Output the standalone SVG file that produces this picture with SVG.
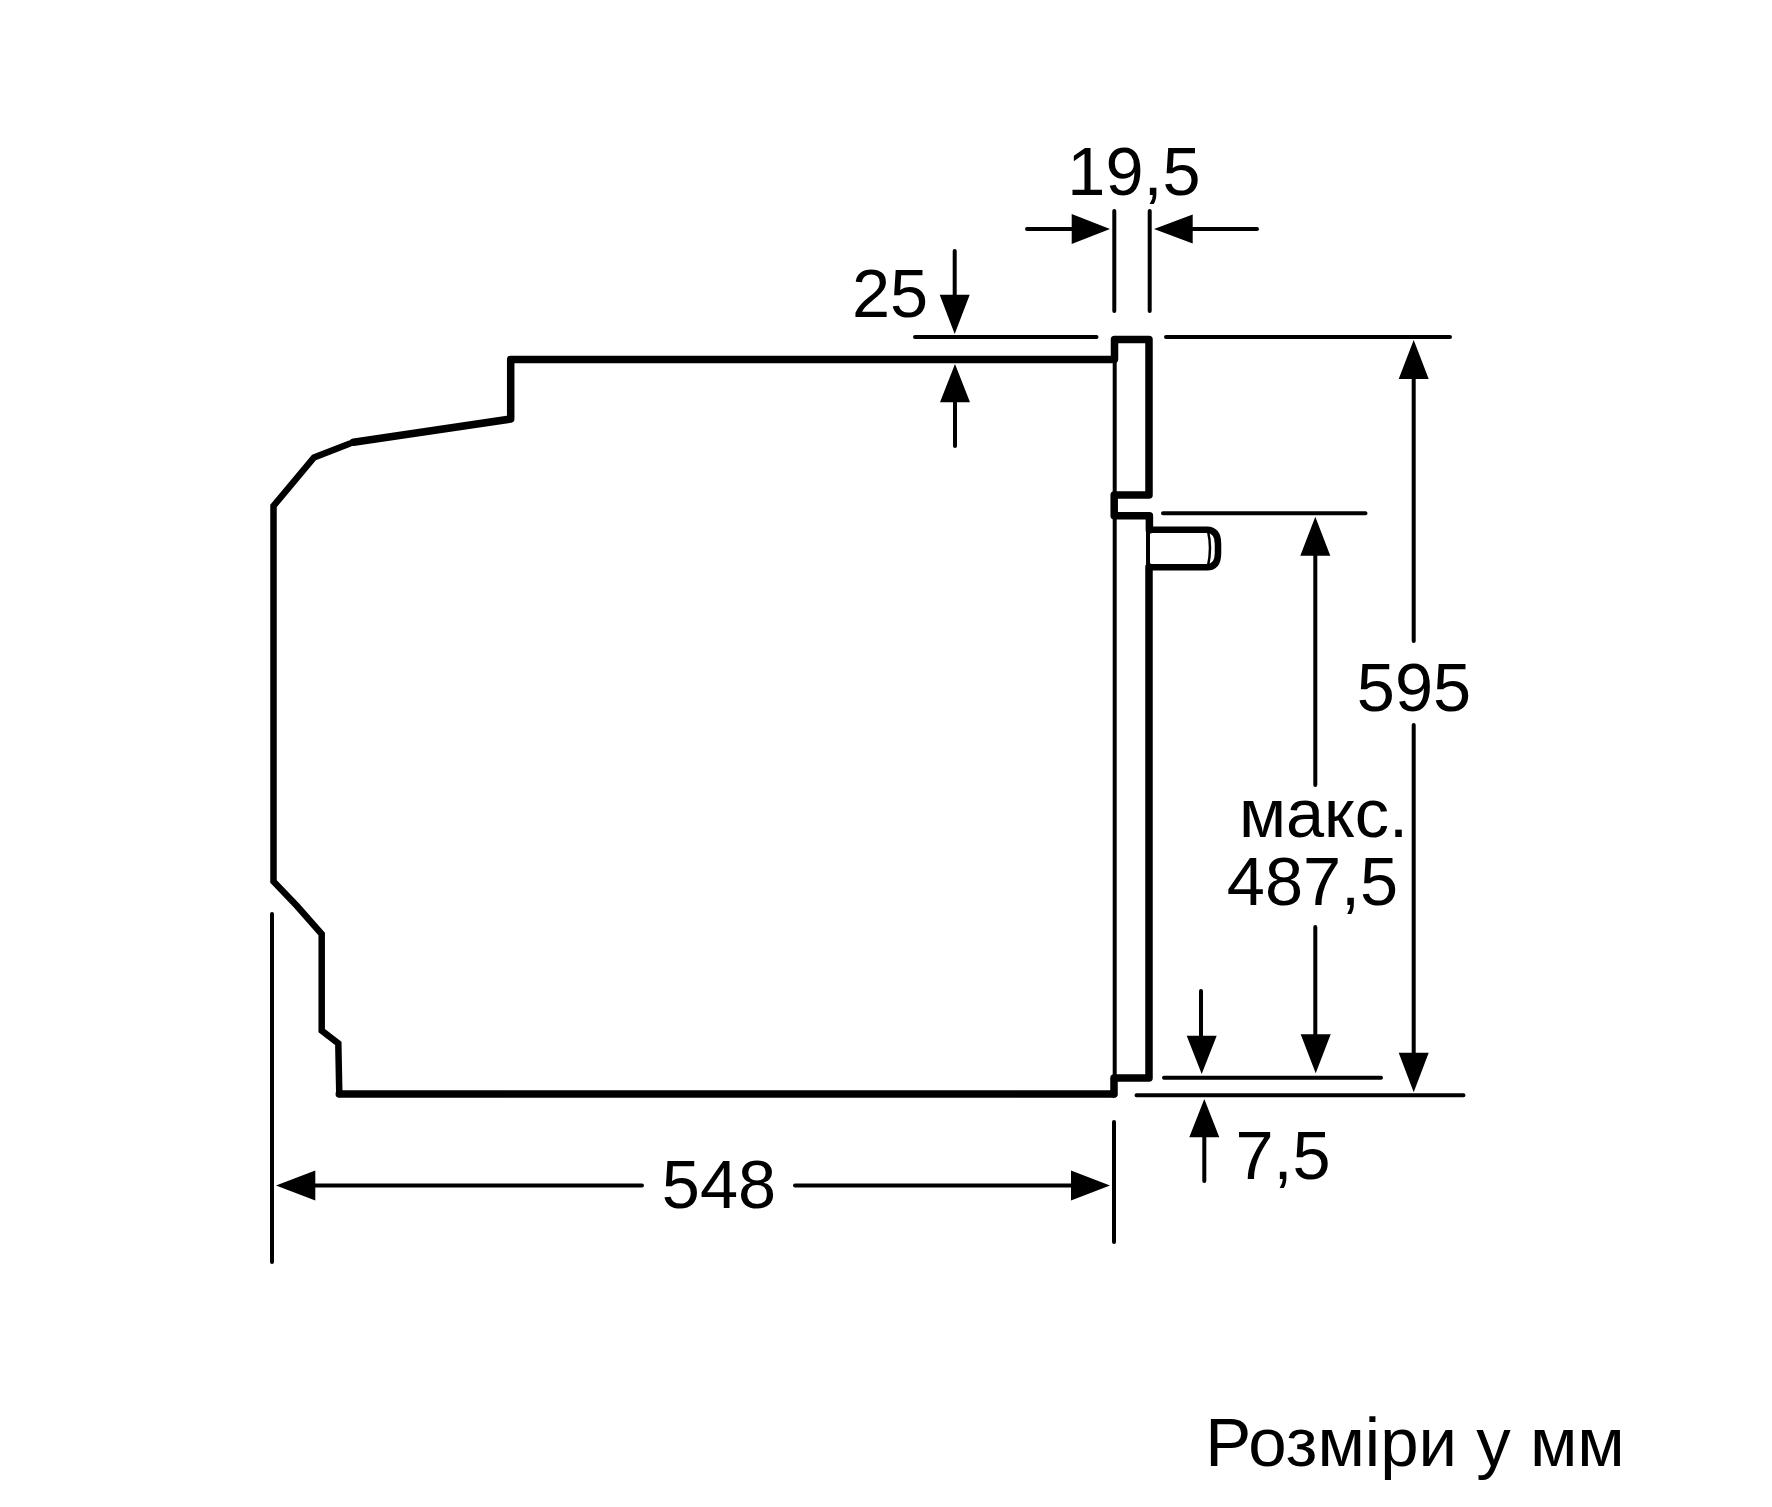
<svg xmlns="http://www.w3.org/2000/svg" width="1772" height="1507" viewBox="0 0 1772 1507">
<style>
.t{font-family:"Liberation Sans",Arial,sans-serif;font-size:68.500px;fill:#000;text-anchor:middle}
.thick{fill:none;stroke:#000;stroke-width:7.500;stroke-linejoin:round;stroke-linecap:round}
.body{fill:none;stroke:#000;stroke-width:6.500;stroke-linejoin:miter;stroke-linecap:round}
.knob{fill:none;stroke:#000;stroke-width:6.500;stroke-linecap:butt}
.thin{fill:none;stroke:#000;stroke-width:4;stroke-linecap:round}
.hair{fill:none;stroke:#000;stroke-width:2.500}
.head{fill:#000;stroke:none}
</style>
<rect width="1772" height="1507" fill="#fff"/>
<g id="oven">
<path class="thick" d="M1114,359.500H510.700V419L353.500,442.300"/>
<path class="body" d="M350,443.500L314,457.500L273.500,506V881.500L297,906L321.700,934V1030.700L338.300,1043.300L339.300,1094"/>
<path class="thick" d="M339.300,1094H1113.500"/>
</g>
<g id="door">
<path class="thick" d="M1114.500,359V339.500H1149V495H1114.500M1114.200,495V515.700H1149.400V530M1114,1094V1078H1149V567"/>
<path class="thin" d="M1114.700,359V493M1114.700,518V1076"/>
<path class="thin" d="M1148,530V566"/>
</g>
<g id="knob">
<path class="knob" d="M1146,529.700H1207Q1218,530 1218,544V553Q1218,567.300 1207,567.300H1146"/>
<path class="hair" d="M1208,531Q1212,548 1208,566"/>
</g>
<g id="connectors">
<path class="thin" d="M1114.300,211V311M1149.700,211V311M1027,229H1075M1192,229H1257"/>
<path class="head" d="M1110,229L1071.700,214V244ZM1154,229L1192.700,214.500V243.500Z"/>
<path class="thin" d="M915,337H1096.500M1166,337H1450M1163,513.300H1365.500M1164,1077.700H1381M1136.500,1095.300H1463.500"/>
<path class="thin" d="M954.700,251V296M955,402V446M1413.700,378V641M1413.700,725V1054M1315.300,555V785M1315.300,927V1036M1201,991V1037M1204.300,1136V1181"/>
<path class="head" d="M954.700,334L939.700,294.700H969.700ZM955,364L940,402.300H970ZM1413.700,340L1398.700,379H1428.700ZM1413.700,1092.300L1398.700,1052.700H1428.700ZM1315.300,516.700L1300.300,555.700H1330.300ZM1315.700,1073.300L1300.700,1034.300H1330.700ZM1201.700,1074L1186.700,1035.700H1216.700ZM1204.300,1099L1189.300,1137.300H1219.300Z"/>
<path class="thin" d="M272,914V1262M1114,1122V1242M313,1185.500H642M795,1185.500H1075"/>
<path class="head" d="M276,1185.500L315.300,1170.500V1200.500ZM1110,1185.500L1071,1170.500V1200.500Z"/>
</g>
<g id="labels">
<text class="t" x="1134" y="195">19,5</text>
<text class="t" x="890" y="317">25</text>
<text class="t" x="1414" y="711">595</text>
<text class="t" x="1323.500" y="837">макс.</text>
<text class="t" x="1312.500" y="905">487,5</text>
<text class="t" x="719" y="1208">548</text>
<text class="t" x="1283" y="1179">7,5</text>
<text class="t" x="1415" y="1466" style="font-size:69px">Розміри у мм</text>
</g>
</svg>
